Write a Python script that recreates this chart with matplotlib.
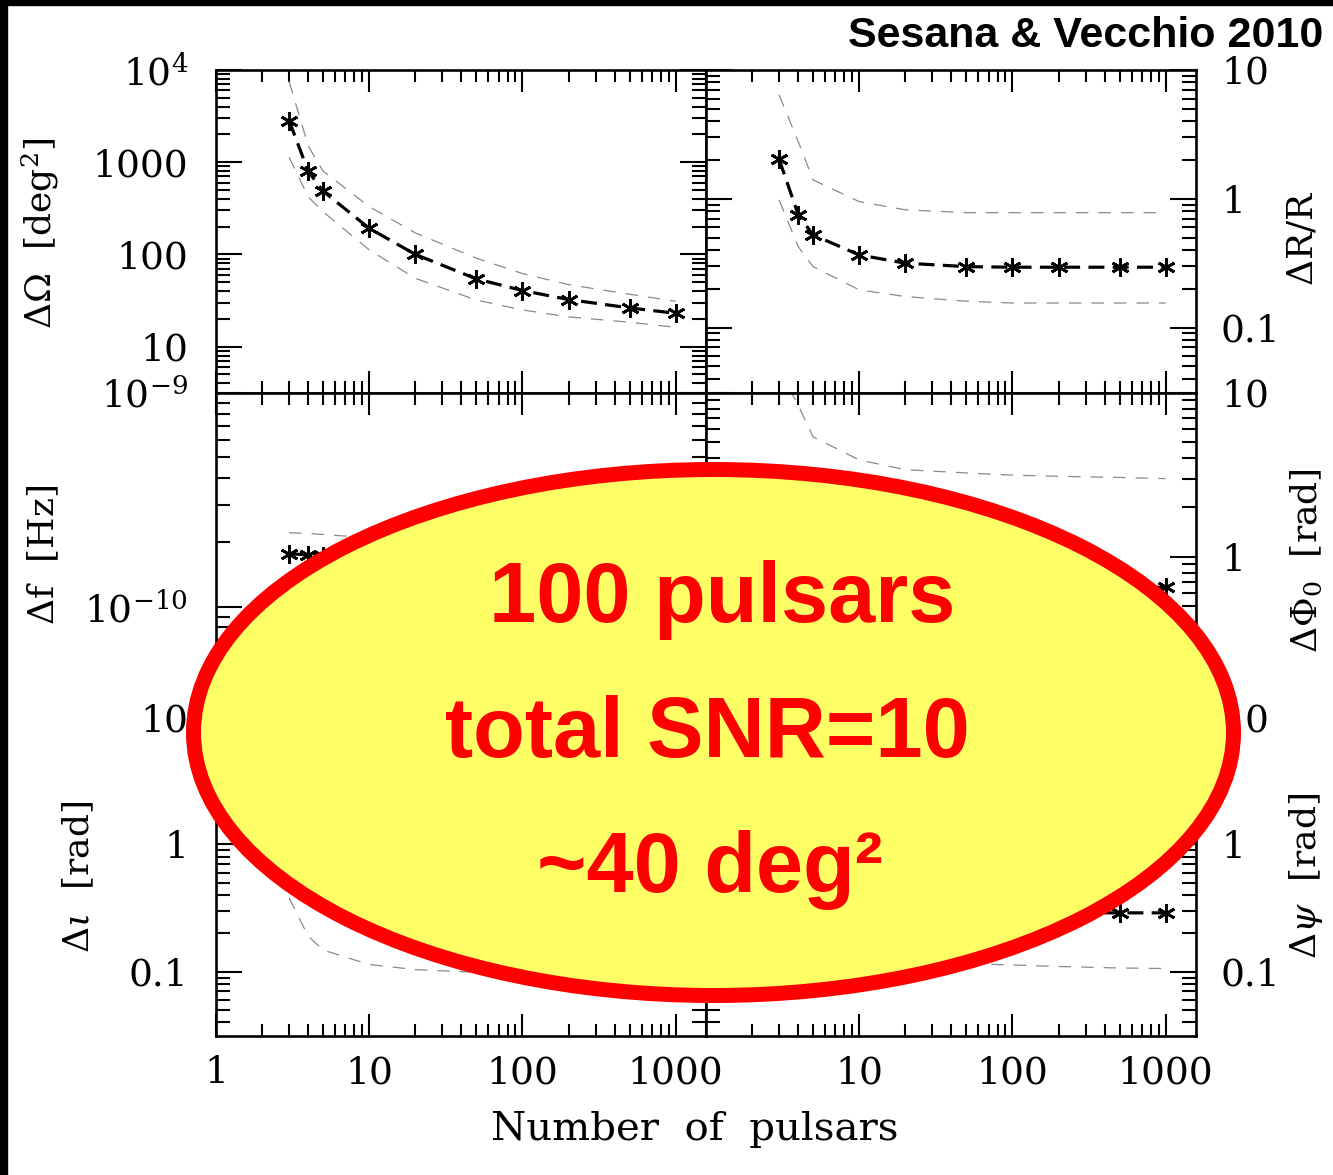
import matplotlib
matplotlib.use('Agg')
import matplotlib.pyplot as plt
from matplotlib.patches import Ellipse, Rectangle
from matplotlib.ticker import NullFormatter

plt.rcParams['font.family'] = 'DejaVu Serif'
plt.rcParams['mathtext.fontset'] = 'dejavuserif'

W, H = 1333, 1175

# number of pulsars
n_psr = [3, 4, 5, 10, 20, 50, 100, 200, 500, 1000]

# sky position error [deg^2]
dom_med = [2830, 795, 485, 192, 100, 54.3, 40.6, 32.4, 26.3, 23.0]
dom_hi = [7500, 1500, 800, 330, 171, 91, 62, 47, 37, 31]
dom_lo = [1130, 420, 290, 112, 55, 32, 25, 21, 18.4, 16.2]

# amplitude error dR/R
dr_med = [2.03, 0.75, 0.524, 0.366, 0.316, 0.297, 0.294, 0.294, 0.294, 0.294]
dr_hi = [6.4, 2.78, 1.40, 0.95, 0.82, 0.78, 0.78, 0.78, 0.78, 0.78]
dr_lo = [0.98, 0.425, 0.297, 0.196, 0.174, 0.16, 0.155, 0.155, 0.155, 0.155]

# frequency error [Hz]
df_med = [1.77e-10, 1.75e-10, 1.72e-10, 1.65e-10, 1.6e-10, 1.56e-10, 1.54e-10, 1.53e-10, 1.52e-10, 1.52e-10]
df_hi = [2.22e-10, 2.2e-10, 2.18e-10, 2.1e-10, 2.02e-10, 1.96e-10, 1.93e-10, 1.92e-10, 1.91e-10, 1.9e-10]
df_lo = [1.35e-10, 1.33e-10, 1.3e-10, 1.26e-10, 1.22e-10, 1.19e-10, 1.18e-10, 1.17e-10, 1.17e-10, 1.17e-10]

# phase error [rad]
dphi_med = [2.5, 1.6, 1.2, 0.85, 0.73, 0.68, 0.66, 0.65, 0.65, 0.65]
dphi_hi = [14, 8.4, 5.4, 3.9, 3.4, 3.25, 3.15, 3.1, 3.05, 3.0]
dphi_lo = [0.9, 0.5, 0.35, 0.22, 0.18, 0.16, 0.155, 0.15, 0.15, 0.15]

# inclination error [rad]
dio_med = [1.3, 0.62, 0.45, 0.33, 0.3, 0.29, 0.285, 0.28, 0.28, 0.28]
dio_hi = [6.0, 2.6, 1.7, 1.0, 0.9, 0.85, 0.84, 0.83, 0.83, 0.83]
dio_lo = [0.38, 0.19, 0.148, 0.114, 0.104, 0.099, 0.097, 0.096, 0.095, 0.095]

# polarisation angle error [rad]
dpsi_med = [1.5, 0.7, 0.5, 0.36, 0.32, 0.3, 0.295, 0.29, 0.29, 0.29]
dpsi_hi = [8.0, 3.0, 1.8, 1.05, 0.88, 0.82, 0.8, 0.79, 0.78, 0.78]
dpsi_lo = [0.5, 0.25, 0.18, 0.135, 0.122, 0.116, 0.113, 0.11, 0.107, 0.106]

x_ticks = [1, 10, 100, 1000]
x_labels_left = ['1', '10', '100', '1000']
x_labels_right = ['', '10', '100', '1000']


def rect(x0, y0, x1, y1):
    return [x0 / W, 1 - y1 / H, (x1 - x0) / W, (y1 - y0) / H]


fig = plt.figure(figsize=(W / 100, H / 100), dpi=100)

cols = [(216, 706), (706, 1196)]
rows = [(70, 393), (393, 717), (717, 1036)]


def panel(col, row, med, hi, lo, ylim, yticks, ylabels):
    x0, x1 = cols[col]
    y0, y1 = rows[row]
    ax = fig.add_axes(rect(x0, y0, x1, y1))
    ax.set_xscale('log')
    ax.set_yscale('log')
    ax.plot(n_psr, hi, color='#8a8a8a', lw=0.9, ls=(0, (10, 8)))
    ax.plot(n_psr, lo, color='#8a8a8a', lw=0.9, ls=(0, (10, 8)))
    ax.plot(n_psr, med, color='k', lw=2.3, ls=(0, (5, 2.6)),
            marker=(6, 2, 0), ms=13, mew=2.0)
    ax.set_xlim(1, 1578)
    ax.set_ylim(*ylim)
    ax.set_yticks(yticks, ylabels)
    ax.set_xticks(x_ticks, x_labels_left if col == 0 else x_labels_right)
    ax.xaxis.set_minor_formatter(NullFormatter())
    ax.yaxis.set_minor_formatter(NullFormatter())
    for s in ax.spines.values():
        s.set_linewidth(1.9)
    ax.tick_params(which='both', direction='in', top=True, right=True,
                   width=1.5, labelsize=27,
                   labelleft=(col == 0), labelright=(col == 1),
                   labelbottom=(row == 2))
    ax.tick_params(axis='y', which='major', length=19, pad=20 if col == 0 else 18)
    ax.tick_params(axis='y', which='minor', length=10)
    ax.tick_params(axis='x', which='major', length=16, pad=14)
    ax.tick_params(axis='x', which='minor', length=8.5)
    return ax


panel(0, 0, dom_med, dom_hi, dom_lo, (3.14, 1e4),
      [10, 100, 1000, 1e4], ['10', '100', '1000', r'$10^4$'])
panel(1, 0, dr_med, dr_hi, dr_lo, (0.031, 10),
      [0.1, 1, 10], ['0.1', '1', '10'])
panel(0, 1, df_med, df_hi, df_lo, (3.05e-11, 1e-9),
      [1e-10, 1e-9], [r'$10^{-10}$', r'$10^{-9}$'])
panel(1, 1, dphi_med, dphi_hi, dphi_lo, (0.105, 10),
      [1, 10], ['1', '10'])
panel(0, 2, dio_med, dio_hi, dio_lo, (0.0313, 10),
      [0.1, 1, 10], ['0.1', '1', '10'])
panel(1, 2, dpsi_med, dpsi_hi, dpsi_lo, (0.0313, 10),
      [0.1, 1, 10], ['0.1', '1', '10'])

# axis titles
lab = dict(rotation=90, ha='center', va='center', fontsize=26)
fig.text(40 / W, 1 - 233 / H, r'$\Delta\Omega$  [deg$^2$]', **lab)
fig.text(44 / W, 1 - 555 / H, r'$\Delta$f  [Hz]', **lab)
fig.text(79 / W, 1 - 877 / H, r'$\Delta\iota$  [rad]', **lab)
fig.text(1303 / W, 1 - 238 / H, r'$\Delta$R/R', **lab)
fig.text(1306 / W, 1 - 561 / H, r'$\Delta\Phi_0$  [rad]', **lab)
fig.text(1306 / W, 1 - 876 / H, r'$\Delta\psi$  [rad]', **lab)
fig.text(695 / W, 1 - 1130 / H, 'Number  of  pulsars', ha='center',
         va='center', fontsize=29)

# frame bars of the slide
fig.add_artist(Rectangle((0, 1 - 5 / H), 1, 5 / H, transform=fig.transFigure,
                         color='k', zorder=20))
fig.add_artist(Rectangle((0, 0), 7 / W, 1, transform=fig.transFigure,
                         color='k', zorder=20))

fig.text(1323 / W, 1 - 47 / H, 'Sesana & Vecchio 2010', ha='right',
         va='baseline', fontsize=31, fontweight='bold',
         family=['Liberation Sans', 'DejaVu Sans'])

# callout
fig.add_artist(Ellipse((713.5 / W, 1 - 732.5 / H), 1040 / W, 526 / H,
                       transform=fig.transFigure, facecolor='#ffff66',
                       edgecolor='#ff0000', lw=10.8, zorder=10))
red = dict(ha='center', va='baseline', fontsize=61, fontweight='bold',
           color='#ff0000', family=['Liberation Sans', 'DejaVu Sans'],
           zorder=11)
fig.text(722 / W, 1 - 622 / H, '100 pulsars', **red)
fig.text(707 / W, 1 - 757 / H, 'total SNR=10', **red)
fig.text(710 / W, 1 - 892 / H, '~40 deg²', **red)

fig.savefig('out.png', dpi=100, facecolor='white')
